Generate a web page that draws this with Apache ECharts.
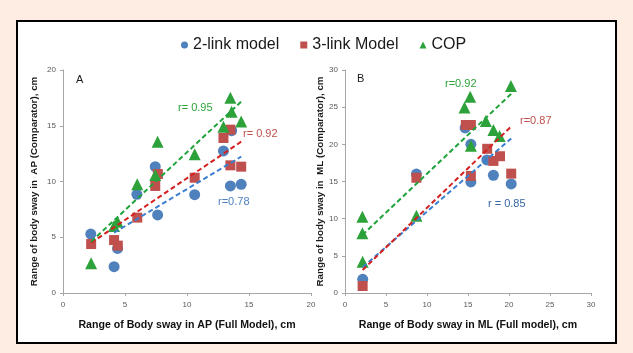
<!DOCTYPE html>
<html>
<head>
<meta charset="utf-8">
<script src="https://cdn.jsdelivr.net/npm/echarts@6/dist/echarts.min.js"></script>
<style>
  html, body { margin: 0; padding: 0; background: #fdede2; }
  #chart { width: 633px; height: 353px; }
</style>
</head>
<body>
<div id="chart"></div>
<script>
// Panel A: range of sway in AP, full model (x) vs comparator (y)
const apTwoLink = [[2.24, 5.29], [4.12, 2.36], [4.4, 4.0], [5.96, 8.85], [7.44, 11.33], [7.63, 7.0],
  [10.62, 8.82], [12.94, 12.74], [13.5, 9.6], [13.6, 14.56], [14.37, 9.75]];
const apThreeLink = [[2.27, 4.39], [4.12, 4.75], [4.42, 4.25], [5.99, 6.76], [7.44, 9.6], [7.65, 10.67],
  [10.62, 10.34], [12.94, 13.9], [13.5, 14.65], [13.5, 11.45], [14.37, 11.33]];
const apCop = [[2.27, 2.66], [4.12, 6.0], [4.4, 6.4], [5.99, 9.75], [7.44, 10.58], [7.63, 13.57],
  [10.62, 12.44], [12.94, 14.92], [13.5, 17.52], [13.6, 16.26], [14.37, 15.37]];
// trendline end points
const apTrendTwo = [[4.12, 5.41], [14.37, 12.23]];
const apTrendThree = [[2.27, 4.5], [14.37, 13.57]];
const apTrendCop = [[2.27, 4.6], [14.37, 17.16]];

// Panel B: range of sway in ML
const mlTwoLink = [[2.16, 1.84], [8.71, 16.0], [14.65, 22.2], [15.35, 20.0], [15.35, 14.94],
  [17.3, 17.9], [18.1, 15.84], [20.27, 14.67]];
const mlThreeLink = [[2.15, 0.94], [8.71, 15.5], [14.73, 22.6], [15.35, 22.6], [15.35, 15.75],
  [17.34, 19.4], [18.1, 17.77], [18.9, 18.4], [20.27, 16.06]];
const mlCop = [[2.12, 10.27], [2.12, 8.03], [2.15, 4.21], [8.71, 10.4], [14.57, 24.94], [15.27, 26.4],
  [15.35, 19.8], [17.18, 23.15], [18.1, 21.94], [18.85, 21.13], [20.24, 27.86]];
const mlTrendTwo = [[2.15, 3.45], [20.27, 20.8]];
const mlTrendThree = [[2.15, 3.1], [20.27, 22.4]];
const mlTrendCop = [[2.12, 7.8], [20.27, 26.8]];

const legendNames = ['2-link model', '3-link Model', 'COP'];

const blue = '#4f81bd';
const red = '#c0504d';
const green = '#2ea23a';

const chart = echarts.init(document.getElementById('chart'));

function xAxisFor(idx, max, title) {
  return {
    gridIndex: idx, type: 'value', min: 0, max: max, interval: 5,
    name: title, nameLocation: 'middle', nameGap: 27,
    nameTextStyle: { fontFamily: 'Liberation Sans', fontWeight: 'bold', fontSize: 10.6, color: '#111' },
    axisLine: { lineStyle: { color: '#a6a6a6' } },
    axisTick: { show: true, length: 3, lineStyle: { color: '#a6a6a6' } },
    axisLabel: { fontSize: 8, color: '#595959', margin: 8 },
    splitLine: { show: false }
  };
}
function yAxisFor(idx, max, title, gap) {
  return {
    gridIndex: idx, type: 'value', min: 0, max: max, interval: 5,
    name: title, nameLocation: 'middle', nameGap: gap,
    nameTextStyle: { fontFamily: 'Liberation Sans', fontWeight: 'bold', fontSize: 9.8, color: '#1a1a1a' },
    axisLine: { show: true, lineStyle: { color: '#a6a6a6' } },
    axisTick: { show: true, length: 3, lineStyle: { color: '#a6a6a6' } },
    axisLabel: { fontSize: 8, color: '#595959', margin: 7 },
    splitLine: { show: false }
  };
}
function dots(name, idx, data, symbol, size, color) {
  return {
    name: name, type: 'scatter', xAxisIndex: idx, yAxisIndex: idx,
    data: data, symbol: symbol, symbolSize: size,
    itemStyle: { color: color, opacity: 1 }, z: 2
  };
}
function trend(idx, data, color) {
  return {
    name: 'trend', type: 'line', xAxisIndex: idx, yAxisIndex: idx,
    data: data, showSymbol: false, symbol: 'none', silent: true,
    lineStyle: { color: color, width: 2, type: [5, 3] }, z: 3
  };
}
function note(x, y, text, color, size) {
  return { type: 'text', left: x, top: y, z: 10,
    style: { text: text, fill: color, font: size + 'px "Liberation Sans"' } };
}

chart.setOption({
  backgroundColor: '#fdede2',
  animation: false,
  textStyle: { fontFamily: 'Liberation Sans' },
  legend: {
    data: [
      { name: legendNames[0], icon: 'circle' },
      { name: legendNames[1], icon: 'rect' },
      { name: legendNames[2], icon: 'triangle' }
    ],
    top: 32, left: 176, itemWidth: 7, itemHeight: 7, itemGap: 21,
    textStyle: { fontSize: 16, color: '#1a1a1a', fontFamily: 'Liberation Sans' }
  },
  graphic: [
    { type: 'rect', shape: { x: 17, y: 21, width: 599, height: 322 }, z: -10,
      style: { fill: '#ffffff', stroke: '#000000', lineWidth: 2 } },
    note(76, 74, 'A', '#1a1a1a', 11),
    note(357, 73, 'B', '#1a1a1a', 11),
    note(178, 102, 'r= 0.95', green, 11),
    note(243, 128, 'r= 0.92', red, 11),
    note(218, 196, 'r=0.78', blue, 11),
    note(445, 78, 'r=0.92', green, 11),
    note(520, 115, 'r=0.87', red, 11),
    note(488, 198, 'r = 0.85', '#3465a4', 11)
  ],
  grid: [
    { left: 63, top: 70, width: 248, height: 223 },
    { left: 345, top: 70, width: 246, height: 223 }
  ],
  xAxis: [
    xAxisFor(0, 20, 'Range of Body sway in AP (Full Model), cm'),
    xAxisFor(1, 30, 'Range of Body sway in ML (Full model), cm')
  ],
  yAxis: [
    yAxisFor(0, 20, 'Range of body sway in  AP (Comparator), cm', 24),
    yAxisFor(1, 30, 'Range of body sway in  ML (Comparator), cm', 18)
  ],
  series: [
    dots(legendNames[0], 0, apTwoLink, 'circle', 11, blue),
    dots(legendNames[1], 0, apThreeLink, 'rect', 10, red),
    dots(legendNames[2], 0, apCop, 'triangle', 12, green),
    dots(legendNames[0], 1, mlTwoLink, 'circle', 11, blue),
    dots(legendNames[1], 1, mlThreeLink, 'rect', 10, red),
    dots(legendNames[2], 1, mlCop, 'triangle', 12, green),
    trend(0, apTrendTwo, '#3b7fd0'),
    trend(0, apTrendThree, '#d42020'),
    trend(0, apTrendCop, '#1fa33a'),
    trend(1, mlTrendTwo, '#3b7fd0'),
    trend(1, mlTrendThree, '#d42020'),
    trend(1, mlTrendCop, '#1fa33a')
  ]
});
</script>
</body>
</html>
